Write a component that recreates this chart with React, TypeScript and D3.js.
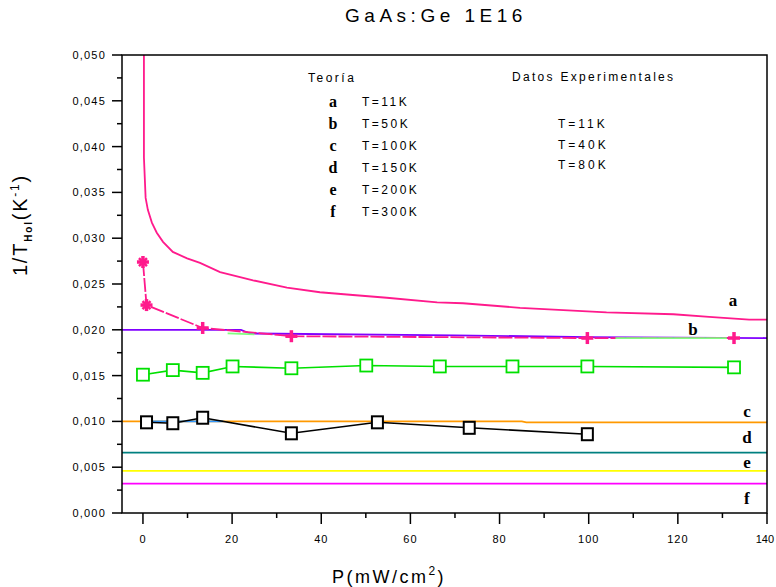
import React from 'react';
import * as d3 from 'd3';

// theory curves (P in mW/cm2, 1/T_Hol in 1/K)
const curveA: [number, number][] = [
  [0.22, 0.0505], [0.22, 0.0388], [0.6, 0.0344], [1.1, 0.0331], [2.0, 0.0317],
  [3.1, 0.0306], [4.5, 0.0296], [6.7, 0.0285], [9.9, 0.0278], [12.8, 0.0273],
  [17.3, 0.0263], [24.7, 0.0254], [32.3, 0.0246], [39.7, 0.0241], [47.1, 0.0238],
  [54.7, 0.0235], [66, 0.023], [71.8, 0.0229], [84.6, 0.0224], [104, 0.0219],
  [119, 0.0217], [127, 0.0214], [136, 0.0211], [140, 0.0211],
];
const curveB: [number, number][] = [
  [-4.7, 0.02], [22, 0.02], [24, 0.0196], [70, 0.0194], [100, 0.0192], [140, 0.0191],
];
const curveC: [number, number][] = [[-4.7, 0.01], [85, 0.01], [86, 0.0099], [140, 0.0099]];
const curveD: [number, number][] = [[-4.7, 0.0066], [140, 0.0066]];
const curveE: [number, number][] = [[-4.7, 0.0046], [140, 0.0046]];
const curveF: [number, number][] = [[-4.7, 0.0032], [140, 0.0032]];

// extra thin segments seen in the plot
const lightGreenA: [number, number][] = [[19, 0.0196], [25, 0.0195]];
const lightGreenB: [number, number][] = [[106, 0.0191], [131, 0.0191]];
const blueSeg: [number, number][] = [[0, 0.01], [18, 0.01]];

// experimental data
const exp11K: [number, number][] = [
  [0, 0.0274], [0.8, 0.0227], [13.4, 0.0202], [33.3, 0.0193], [99.7, 0.0191], [132.6, 0.0191],
];
const exp40K: [number, number][] = [
  [0, 0.0151], [6.7, 0.0156], [13.4, 0.0153], [20.1, 0.016], [33.3, 0.0158], [50.1, 0.0161],
  [66.6, 0.016], [82.9, 0.016], [99.7, 0.016], [132.6, 0.0159],
];
const exp80K: [number, number][] = [
  [0.8, 0.0099], [6.7, 0.0098], [13.4, 0.0104], [33.3, 0.0087], [52.6, 0.0099],
  [73.2, 0.0093], [99.7, 0.0086],
];

const theoryLabels = ['a', 'b', 'c', 'd', 'e', 'f'];
const theoryTemps = ['T=11K', 'T=50K', 'T=100K', 'T=150K', 'T=200K', 'T=300K'];
const expTemps = ['T=11K', 'T=40K', 'T=80K'];
const curveLabelY = [0.0226, 0.0194, 0.0105, 0.0076, 0.0049, 0.001];
const curveLabelX = [132.4, 123.4, 135.5, 135.5, 135.5, 135.5];

const xTicks = [0, 20, 40, 60, 80, 100, 120, 140];
const xMinor = [10, 30, 50, 70, 90, 110, 130];
const yTicks = [0, 0.005, 0.01, 0.015, 0.02, 0.025, 0.03, 0.035, 0.04, 0.045, 0.05];
const yMinor = [0.0025, 0.0075, 0.0125, 0.0175, 0.0225, 0.0275, 0.0325, 0.0375, 0.0425, 0.0475];

const W = 776, H = 587;
const x = d3.scaleLinear().domain([-4.7, 140]).range([122, 767]);
const y = d3.scaleLinear().domain([0, 0.05]).range([513, 55]);
const line = d3.line<[number, number]>().x(d => x(d[0])).y(d => y(d[1]));
const fmt = (v: number) => d3.format('.3f')(v).replace('.', ',');

const sans = '"Liberation Sans", Arial, sans-serif';
const serif = '"Liberation Serif", "Times New Roman", serif';

const Cross = ({ cx, cy, star }: { cx: number; cy: number; star: boolean }) => (
  <g stroke="#ff1a8c" strokeWidth={3.5} strokeLinecap="butt">
    <line x1={cx - 6} y1={cy} x2={cx + 6} y2={cy} />
    <line x1={cx} y1={cy - 6} x2={cx} y2={cy + 6} />
    {star && (
      <>
        <line x1={cx - 4} y1={cy - 4} x2={cx + 4} y2={cy + 4} strokeWidth={2.5} />
        <line x1={cx - 4} y1={cy + 4} x2={cx + 4} y2={cy - 4} strokeWidth={2.5} />
      </>
    )}
  </g>
);

const App = () => {
  const theory = [
    { d: curveF, c: '#ff00ff' },
    { d: curveE, c: '#ffff00' },
    { d: curveD, c: '#008080' },
    { d: curveC, c: '#ff9900' },
    { d: curveB, c: '#8000ff' },
    { d: curveA, c: '#ff1a8c' },
  ];
  const last = xTicks[xTicks.length - 1];
  return (
    <svg width={W} height={H} style={{ position: 'absolute', left: 0, top: 0, background: '#fff' }}>
      <defs>
        <clipPath id="plot">
          <rect x={122} y={55} width={645} height={458} />
        </clipPath>
      </defs>

      {/* title */}
      <text x={436} y={22} textAnchor="middle" fontFamily={sans} fontSize={19} letterSpacing={4.5}>
        GaAs:Ge  1E16
      </text>

      <g clipPath="url(#plot)">
        {theory.map((t, i) => (
          <path key={i} d={line(t.d) || ''} fill="none" stroke={t.c} strokeWidth={1.8} />
        ))}
        <path d={line(blueSeg) || ''} fill="none" stroke="#3399ff" strokeWidth={1.8} />
        <path d={line(exp11K) || ''} fill="none" stroke="#ff1a8c" strokeWidth={1.8} strokeDasharray="14 2" />
        <path d={line(lightGreenA) || ''} fill="none" stroke="#80ff80" strokeWidth={1.8} />
        <path d={line(lightGreenB) || ''} fill="none" stroke="#80ff80" strokeWidth={1.8} />
        <path d={line(exp40K) || ''} fill="none" stroke="#00e000" strokeWidth={1.6} />
        <path d={line(exp80K) || ''} fill="none" stroke="#000" strokeWidth={1.6} />

        {exp40K.map((p, i) => (
          <rect key={'g' + i} x={x(p[0]) - 6} y={y(p[1]) - 6} width={12} height={12}
            fill="#fff" stroke="#00e000" strokeWidth={1.8} />
        ))}
        {exp80K.map((p, i) => (
          <rect key={'k' + i} x={x(p[0]) - 5.5} y={y(p[1]) - 6} width={11} height={12}
            fill="#fff" stroke="#000" strokeWidth={2} />
        ))}
        {exp11K.map((p, i) => (
          <Cross key={'p' + i} cx={x(p[0])} cy={y(p[1])} star={i < 2} />
        ))}
      </g>

      {/* frame */}
      <rect x={122} y={55} width={645} height={458} fill="none" stroke="#000" strokeWidth={1.5} />

      {/* y axis */}
      {yTicks.map(v => (
        <g key={'yt' + v}>
          <line x1={112} x2={122} y1={y(v)} y2={y(v)} stroke="#000" strokeWidth={1.5} />
          <text x={106} y={y(v) + 4} textAnchor="end" fontFamily={sans} fontSize={11} letterSpacing={1.2}>
            {fmt(v)}
          </text>
        </g>
      ))}
      {yMinor.map(v => (
        <line key={'ym' + v} x1={117} x2={122} y1={y(v)} y2={y(v)} stroke="#000" strokeWidth={1.5} />
      ))}

      {/* x axis */}
      {xTicks.map(v => (
        <g key={'xt' + v}>
          <line x1={x(v)} x2={x(v)} y1={513} y2={524} stroke="#000" strokeWidth={1.5} />
          <text x={v === last ? 774 : x(v)} y={543} textAnchor={v === last ? 'end' : 'middle'}
            fontFamily={sans} fontSize={11} letterSpacing={v === last ? 0 : 1}>
            {v}
          </text>
        </g>
      ))}
      {xMinor.map(v => (
        <line key={'xm' + v} x1={x(v)} x2={x(v)} y1={513} y2={518} stroke="#000" strokeWidth={1.5} />
      ))}

      {/* axis titles */}
      <text x={389} y={583} textAnchor="middle" fontFamily={sans} fontSize={18} letterSpacing={2.5}>
        P(mW/cm<tspan dy={-8} fontSize={12}>2</tspan><tspan dy={8}>)</tspan>
      </text>
      <text transform="translate(27,225) rotate(-90)" textAnchor="middle" fontFamily={sans} fontSize={20} letterSpacing={1.8}>
        1/T<tspan dy={5} fontSize={10} fontWeight="bold">Hol</tspan>
        <tspan dy={-5}>(K</tspan><tspan dy={-8} fontSize={12}>-1</tspan><tspan dy={8}>)</tspan>
      </text>

      {/* curve letters */}
      {theoryLabels.map((l, i) => (
        <text key={'cl' + i} x={x(curveLabelX[i])} y={y(curveLabelY[i])} textAnchor="middle"
          fontFamily={serif} fontWeight="bold" fontSize={17}>
          {l}
        </text>
      ))}

      {/* legend */}
      <text x={308} y={82} fontFamily={sans} fontSize={12} letterSpacing={2.5}>Teoría</text>
      {theoryLabels.map((l, i) => (
        <g key={'lg' + i}>
          <text x={333} y={107 + i * 22} textAnchor="middle" fontFamily={serif} fontWeight="bold" fontSize={16}>
            {l}
          </text>
          <text x={362} y={106 + i * 22} fontFamily={sans} fontSize={12} letterSpacing={2.5}>
            {theoryTemps[i]}
          </text>
        </g>
      ))}
      <text x={512} y={81} fontFamily={sans} fontSize={12} letterSpacing={2.3}>Datos Experimentales</text>
      {expTemps.map((t, i) => (
        <text key={'et' + i} x={558} y={128 + i * 20.5} fontFamily={sans} fontSize={12} letterSpacing={3}>
          {t}
        </text>
      ))}
    </svg>
  );
};

export default App;
